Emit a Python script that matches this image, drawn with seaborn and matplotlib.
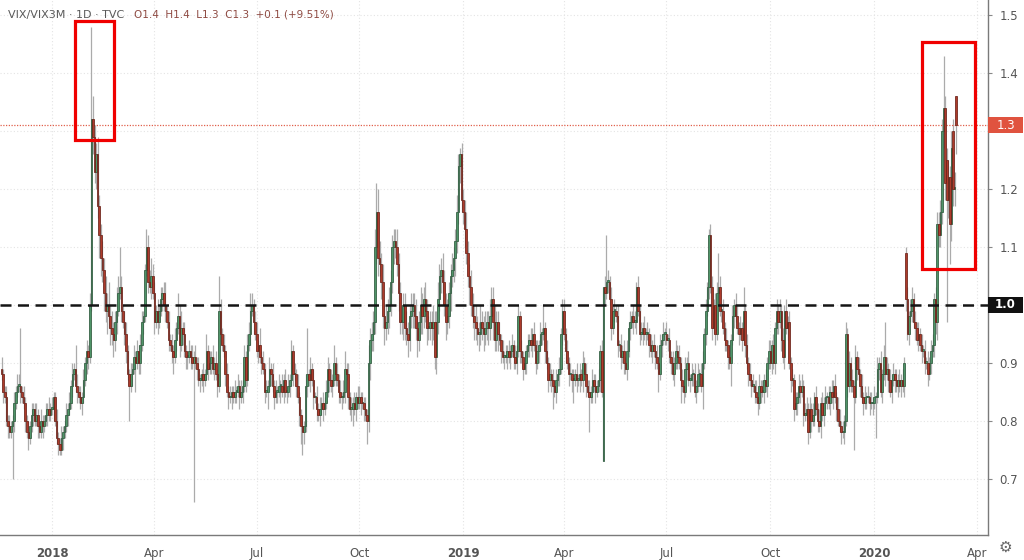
import numpy as np
import pandas as pd
import matplotlib
matplotlib.use("Agg")
import matplotlib.pyplot as plt
from matplotlib.patches import Rectangle
import seaborn as sns

# VIX/VIX3M daily closes, one row per month
close_2017 = [
    0.88, 0.85, 0.84, 0.80, 0.79, 0.78, 0.79, 0.80, 0.83, 0.85, 0.86,                                # Nov (from 16th)
    0.86, 0.85, 0.84, 0.83, 0.80, 0.78, 0.77, 0.79, 0.81, 0.82, 0.80, 0.81, 0.79, 0.78, 0.80, 0.79, 0.80, 0.81, 0.82, 0.81, 0.82,  # Dec
]
close_2018 = [
    0.82, 0.84, 0.80, 0.77, 0.76, 0.75, 0.77, 0.78, 0.79, 0.81, 0.82, 0.83, 0.86, 0.88, 0.89, 0.86, 0.85, 0.84, 0.83, 0.84, 0.87, 0.90, 0.92,
    0.91, 1.00, 1.32, 1.29, 1.23, 1.26, 1.17, 1.12, 1.08, 1.06, 1.02, 0.99, 1.00, 0.98, 0.96, 0.95, 0.94, 0.97, 0.99, 1.02,
    1.03, 0.99, 0.97, 0.95, 0.92, 0.88, 0.86, 0.88, 0.89, 0.91, 0.90, 0.92, 0.90, 0.93, 0.97, 0.98, 1.06, 1.10, 1.04, 1.03, 1.05, 1.02,
    0.97, 0.99, 0.97, 0.99, 1.01, 1.02, 1.00, 0.99, 0.97, 0.94, 0.93, 0.92, 0.91, 0.94, 0.96, 0.98, 0.93, 0.96, 0.95, 0.92, 0.91,
    0.91, 0.92, 0.91, 0.90, 0.91, 0.90, 0.89, 0.87, 0.87, 0.88, 0.87, 0.88, 0.92, 0.89, 0.90, 0.91, 0.89, 0.90, 0.88, 0.86, 0.99, 0.95, 0.93,
    0.92, 0.88, 0.85, 0.84, 0.84, 0.85, 0.84, 0.85, 0.85, 0.86, 0.84, 0.85, 0.86, 0.91, 0.87, 0.93, 0.95, 0.99, 1.00, 0.97, 0.95,
    0.92, 0.93, 0.91, 0.90, 0.89, 0.85, 0.85, 0.86, 0.89, 0.88, 0.86, 0.84, 0.85, 0.85, 0.86, 0.86, 0.85, 0.87, 0.85, 0.85, 0.86, 0.87,
    0.92, 0.88, 0.88, 0.86, 0.84, 0.81, 0.79, 0.78, 0.79, 0.86, 0.88, 0.87, 0.89, 0.87, 0.84, 0.84, 0.82, 0.81, 0.82, 0.83, 0.82, 0.83, 0.85,
    0.89, 0.87, 0.86, 0.87, 0.90, 0.88, 0.87, 0.85, 0.84, 0.84, 0.85, 0.89, 0.88, 0.84, 0.82, 0.82, 0.83, 0.82, 0.84, 0.83,
    0.84, 0.83, 0.83, 0.82, 0.81, 0.80, 0.90, 0.94, 0.95, 0.97, 1.10, 1.16, 1.08, 1.07, 1.04, 0.98, 0.96, 0.97, 0.99, 1.00, 1.04, 1.10, 1.11,
    1.10, 1.07, 1.02, 0.97, 0.97, 1.00, 0.96, 0.95, 0.94, 0.98, 0.99, 1.00, 0.98, 0.96, 0.94, 0.97, 1.00, 0.98, 1.01, 0.99, 0.96, 0.96,
    0.97, 0.96, 0.97, 0.91, 0.97, 1.01, 1.05, 1.06, 1.04, 1.00, 0.97, 0.98, 1.02, 1.05, 1.06, 1.08, 1.11, 1.16, 1.24, 1.26, 1.18,
]
close_2019 = [
    1.16, 1.13, 1.09, 1.05, 1.03, 1.00, 0.98, 0.97, 0.96, 0.95, 0.95, 0.97, 0.96, 0.95, 0.96, 0.97, 0.96, 0.98, 1.01, 0.97, 0.94, 0.97, 0.95,
    0.94, 0.92, 0.91, 0.91, 0.91, 0.92, 0.91, 0.92, 0.93, 0.91, 0.90, 0.92, 0.98, 0.92, 0.91, 0.89, 0.90, 0.92, 0.93, 0.94,
    0.93, 0.95, 0.93, 0.90, 0.92, 0.93, 0.95, 0.95, 0.96, 0.92, 0.90, 0.87, 0.88, 0.87, 0.86, 0.85, 0.87, 0.88, 0.89, 0.95, 0.99,
    0.95, 0.92, 0.90, 0.88, 0.88, 0.87, 0.87, 0.88, 0.87, 0.87, 0.88, 0.87, 0.90, 0.88, 0.86, 0.85, 0.84, 0.85, 0.87, 0.86, 0.85, 0.86,
    0.87, 0.92, 0.85, 1.03, 1.02, 1.04, 1.04, 1.01, 0.96, 0.99, 0.99, 0.98, 0.93, 0.93, 0.91, 0.92, 0.90, 0.89, 0.92, 0.96, 0.97, 0.98, 0.97,
    0.97, 1.03, 0.99, 0.95, 0.95, 0.96, 0.95, 0.95, 0.95, 0.93, 0.92, 0.93, 0.92, 0.91, 0.90, 0.88, 0.93, 0.94, 0.95, 0.95,
    0.94, 0.94, 0.91, 0.90, 0.88, 0.90, 0.92, 0.91, 0.90, 0.87, 0.86, 0.85, 0.89, 0.90, 0.87, 0.87, 0.88, 0.88, 0.85, 0.86, 0.88, 0.88, 0.86,
    0.90, 0.95, 0.99, 1.03, 1.12, 1.03, 0.96, 1.00, 0.95, 1.02, 1.03, 0.99, 0.99, 0.96, 0.94, 0.93, 0.91, 0.90, 0.94, 0.98, 1.00, 0.98,
    0.96, 0.95, 0.96, 0.94, 0.99, 0.93, 0.90, 0.88, 0.87, 0.86, 0.86, 0.85, 0.84, 0.83, 0.86, 0.85, 0.85, 0.87, 0.86, 0.90, 0.92,
    0.90, 0.93, 0.90, 0.96, 0.99, 0.97, 0.99, 0.94, 0.91, 0.99, 0.96, 0.97, 0.90, 0.87, 0.87, 0.82, 0.83, 0.84, 0.86, 0.85, 0.86, 0.81, 0.81,
    0.82, 0.78, 0.82, 0.80, 0.81, 0.84, 0.82, 0.80, 0.79, 0.83, 0.81, 0.83, 0.84, 0.84, 0.83, 0.85, 0.84, 0.86, 0.84, 0.82, 0.80,
    0.79, 0.78, 0.78, 0.80, 0.95, 0.86, 0.90, 0.87, 0.86, 0.84, 0.91, 0.89, 0.88, 0.86, 0.84, 0.83, 0.84, 0.84, 0.84, 0.83, 0.83, 0.83,
]
close_2020 = [
    0.84, 0.84, 0.89, 0.90, 0.85, 0.88, 0.91, 0.88, 0.89, 0.87, 0.85, 0.87, 0.88, 0.87, 0.86, 0.87, 0.86, 0.87, 0.86, 0.90, 1.01, 0.95, 0.98,
    0.99, 1.01, 0.97, 0.96, 0.94, 0.95, 0.93, 0.92, 0.92, 0.90, 0.90, 0.88, 0.90, 0.92, 0.93, 1.01, 0.97, 1.14, 1.12, 1.16,
    1.30, 1.34, 1.21, 1.18, 1.22, 1.14, 1.27, 1.20, 1.20, 1.31,
]

# wick length above / below the body, in hundredths
wick_up_2017 = [2, 1, 1, 2, 1, 2, 1, 1, 2, 1, 2,
                2, 10, 1, 2, 1, 1, 2, 1, 2, 1, 1, 2, 1, 1, 2, 1, 1, 2, 1, 2, 1]
wick_dn_2017 = [1, 2, 1, 1, 2, 1, 1, 9, 2, 1, 1,
                1, 2, 1, 1, 2, 1, 2, 1, 1, 2, 1, 1, 2, 1, 1, 2, 1, 1, 2, 1, 1]
wick_up_2018 = [
    2, 1, 1, 2, 1, 1, 2, 1, 1, 2, 1, 2, 1, 2, 1, 4, 2, 1, 2, 1, 2, 1, 2,
    1, 2, 16, 4, 2, 2, 3, 2, 2, 3, 2, 3, 2, 4, 2, 3, 2, 2, 4, 3,
    7, 2, 1, 2, 2, 1, 1, 2, 1, 2, 1, 2, 1, 2, 2, 1, 1, 3, 2, 2, 3, 2,
    2, 1, 2, 1, 2, 1, 2, 4, 1, 2, 1, 2, 1, 2, 1, 4, 2, 3, 1, 2, 1,
    1, 2, 1, 2, 1, 2, 1, 2, 1, 1, 2, 1, 3, 1, 2, 1, 2, 1, 2, 1, 6, 2, 1,
    2, 1, 2, 1, 2, 1, 1, 2, 1, 2, 1, 2, 1, 2, 1, 2, 2, 3, 2, 1, 2,
    2, 1, 3, 1, 2, 1, 2, 1, 2, 1, 2, 1, 2, 1, 2, 1, 2, 1, 2, 1, 2, 1,
    2, 1, 2, 1, 2, 1, 1, 2, 1, 2, 8, 1, 2, 1, 2, 1, 2, 1, 2, 1, 2, 1, 2,
    2, 1, 2, 1, 3, 1, 2, 1, 2, 1, 2, 3, 1, 2, 1, 2, 1, 2, 1, 2,
    2, 1, 2, 1, 2, 1, 3, 2, 2, 2, 3, 5, 4, 3, 2, 3, 2, 3, 2, 3, 2, 2, 2,
    2, 3, 2, 2, 3, 2, 2, 3, 2, 2, 3, 2, 2, 3, 2, 2, 3, 2, 2, 3, 2, 2,
    2, 2, 3, 2, 2, 3, 2, 2, 3, 2, 2, 3, 2, 2, 3, 2, 2, 3, 2, 1, 2,
]
wick_dn_2018 = [
    1, 2, 1, 1, 2, 1, 1, 2, 1, 1, 2, 1, 1, 2, 1, 1, 2, 1, 1, 2, 1, 1, 2,
    2, 1, 1, 3, 2, 3, 2, 4, 3, 2, 3, 2, 4, 2, 3, 2, 3, 2, 2, 1,
    1, 2, 1, 2, 2, 1, 6, 1, 2, 1, 5, 1, 2, 2, 1, 2, 1, 1, 2, 1, 2, 1,
    2, 1, 2, 1, 1, 2, 1, 2, 1, 2, 1, 2, 3, 1, 2, 1, 2, 1, 2, 1, 2,
    2, 1, 2, 1, 24, 1, 2, 1, 2, 1, 2, 1, 1, 2, 1, 2, 1, 2, 1, 2, 1, 2, 1,
    1, 2, 1, 2, 1, 2, 1, 1, 2, 1, 2, 1, 2, 1, 2, 1, 1, 2, 1, 2, 1,
    1, 2, 1, 2, 1, 2, 1, 3, 1, 2, 1, 2, 1, 2, 1, 3, 1, 2, 1, 2, 1, 2,
    1, 2, 1, 2, 1, 2, 3, 4, 2, 1, 2, 1, 2, 1, 2, 1, 2, 1, 2, 1, 2, 1, 1,
    1, 2, 1, 2, 1, 2, 1, 2, 1, 2, 1, 2, 1, 2, 1, 2, 3, 1, 2, 1,
    1, 2, 1, 2, 1, 4, 2, 3, 2, 3, 2, 3, 3, 2, 3, 2, 3, 2, 2, 3, 2, 2, 3,
    2, 2, 3, 2, 2, 3, 2, 2, 3, 2, 2, 3, 2, 2, 3, 2, 2, 3, 2, 2, 3, 2,
    2, 3, 2, 2, 3, 2, 2, 3, 2, 2, 3, 2, 2, 3, 2, 2, 3, 2, 2, 3, 2,
]
wick_up_2019 = [
    2, 2, 3, 2, 2, 3, 2, 2, 3, 2, 2, 3, 2, 2, 3, 2, 2, 3, 2, 2, 3, 2, 2,
    2, 1, 2, 1, 2, 1, 2, 1, 2, 1, 2, 1, 2, 1, 2, 1, 2, 1, 2, 1,
    2, 1, 2, 1, 2, 1, 2, 1, 4, 1, 2, 1, 2, 1, 2, 1, 2, 1, 2, 1, 2,
    2, 1, 2, 1, 2, 1, 2, 1, 2, 1, 2, 1, 2, 1, 2, 1, 2, 1, 2, 1, 2, 1,
    2, 1, 2, 0, 2, 8, 2, 1, 2, 1, 2, 1, 2, 1, 2, 1, 2, 1, 2, 1, 2, 1, 2,
    2, 1, 2, 1, 2, 1, 2, 1, 2, 1, 2, 1, 2, 1, 2, 1, 2, 1, 2, 1,
    2, 1, 2, 1, 2, 1, 2, 1, 2, 1, 2, 1, 2, 1, 2, 1, 2, 1, 2, 1, 2, 1, 2,
    2, 1, 2, 1, 1, 2, 2, 1, 2, 2, 6, 2, 1, 2, 1, 2, 1, 2, 1, 2, 1, 2,
    2, 1, 2, 1, 4, 1, 2, 1, 2, 1, 2, 1, 2, 1, 2, 1, 2, 1, 2, 1, 2,
    2, 1, 2, 1, 2, 1, 2, 1, 2, 1, 2, 1, 2, 1, 2, 1, 2, 1, 2, 1, 2, 1, 2,
    2, 1, 2, 1, 2, 1, 2, 1, 2, 1, 2, 1, 2, 1, 2, 1, 2, 1, 2, 1, 2,
    2, 1, 2, 1, 2, 1, 2, 1, 2, 1, 2, 1, 2, 1, 2, 1, 2, 1, 2, 1, 2, 1,
]
wick_dn_2019 = [
    2, 3, 2, 2, 3, 2, 2, 3, 2, 2, 3, 2, 2, 3, 2, 2, 3, 2, 2, 3, 2, 2, 3,
    1, 2, 1, 2, 1, 2, 1, 2, 1, 2, 1, 2, 1, 2, 1, 2, 1, 2, 1, 2,
    1, 2, 1, 2, 1, 2, 1, 2, 1, 2, 1, 2, 1, 2, 4, 1, 2, 1, 2, 1, 2,
    1, 2, 1, 2, 1, 2, 4, 1, 2, 1, 2, 1, 2, 1, 2, 1, 6, 1, 2, 1, 2, 1,
    1, 2, 1, 0, 2, 1, 2, 1, 2, 1, 2, 1, 2, 1, 2, 1, 2, 1, 2, 1, 2, 1, 2,
    1, 2, 1, 2, 1, 2, 1, 2, 1, 2, 1, 2, 1, 2, 1, 3, 1, 2, 1, 2,
    1, 2, 1, 2, 1, 2, 1, 2, 1, 4, 1, 2, 1, 2, 1, 2, 1, 2, 1, 2, 1, 2, 1,
    4, 1, 2, 1, 2, 1, 2, 1, 2, 1, 2, 1, 2, 1, 2, 1, 2, 1, 4, 1, 2, 1,
    1, 2, 1, 2, 1, 2, 1, 2, 1, 2, 1, 2, 1, 2, 1, 2, 1, 2, 1, 2, 1,
    1, 2, 1, 2, 1, 2, 1, 2, 1, 2, 1, 2, 1, 2, 1, 2, 1, 2, 1, 2, 1, 2, 1,
    1, 2, 1, 2, 1, 2, 1, 2, 1, 2, 1, 2, 1, 2, 1, 2, 1, 2, 1, 2, 1,
    1, 2, 1, 2, 1, 2, 1, 2, 1, 9, 1, 2, 1, 2, 1, 2, 1, 2, 1, 2, 1, 2,
]
wick_up_2020 = [
    2, 1, 2, 1, 2, 1, 2, 6, 2, 1, 2, 1, 2, 1, 2, 1, 2, 1, 2, 1, 1, 2, 1,
    2, 2, 1, 2, 1, 2, 1, 2, 1, 2, 1, 2, 1, 2, 2, 1, 2, 2, 2, 2,
    2, 9, 2, 2, 3, 2, 3, 2, 3, 0,
]
wick_dn_2020 = [
    1, 7, 1, 2, 1, 2, 1, 2, 1, 2, 1, 2, 1, 2, 1, 2, 1, 2, 1, 2, 2, 1, 2,
    1, 2, 1, 2, 1, 2, 1, 2, 1, 2, 1, 2, 1, 2, 1, 2, 2, 3, 2, 2,
    2, 3, 3, 21, 3, 7, 3, 3, 3, 5,
]

# sessions whose open is not the previous close
gap_open = {
    "2017-11-16": 0.89,
    "2019-05-06": 0.73,
    "2020-01-29": 1.09,
    "2020-03-05": 1.25,
    "2020-03-11": 1.30,
    "2020-03-13": 1.36,
}

closes = np.array(close_2017 + close_2018 + close_2019 + close_2020)
up_w = np.array(wick_up_2017 + wick_up_2018 + wick_up_2019 + wick_up_2020) / 100
dn_w = np.array(wick_dn_2017 + wick_dn_2018 + wick_dn_2019 + wick_dn_2020) / 100
n = len(closes)
dates = pd.bdate_range("2017-11-16", periods=n)

opens = np.r_[closes[0], closes[:-1]]
for d, v in gap_open.items():
    opens[dates.get_loc(pd.Timestamp(d))] = v
highs = np.maximum(opens, closes) + up_w
lows = np.minimum(opens, closes) - dn_w

df = pd.DataFrame({"date": dates, "open": opens, "high": highs,
                   "low": lows, "close": closes})
df["pos"] = np.arange(n)
df["rising"] = df["close"] >= df["open"]

sns.set_style("white")
plt.rcParams["font.family"] = ["DejaVu Sans"]

fig = plt.figure(figsize=(10.24, 5.6), dpi=100)
ax = fig.add_axes([0.0, 0.045, 0.965, 0.955])

ax.set_ylim(0.603, 1.526)
ax.set_xlim(-1, 626.3)

# wicks
ax.vlines(df["pos"], df["low"], df["high"], color="#ababab", lw=0.9, zorder=2)

# bodies
body = (df["close"] - df["open"]).abs().clip(lower=0.003)
bottom = df[["open", "close"]].min(axis=1)
g = df["rising"]
ax.bar(df["pos"][g], body[g], bottom=bottom[g], width=1.0,
       color="#4f9468", edgecolor="#2f5a3e", lw=0.55, zorder=3)
ax.bar(df["pos"][~g], body[~g], bottom=bottom[~g], width=1.0,
       color="#ad3b2b", edgecolor="#6a2219", lw=0.55, zorder=3)

# reference lines
ax.axhline(1.0, color="#151515", lw=1.8, ls=(0, (4.4, 2.6)), zorder=4)
last = closes[-1]
ax.axhline(last, color="#e0604c", lw=0.9, ls=(0, (1, 1.2)), zorder=2.5)

# highlight boxes
ax.add_patch(Rectangle((46.6, 1.285), 24.5, 0.204, fill=False, ec="#f00000",
                       lw=2.3, zorder=6))
ax.add_patch(Rectangle((584.6, 1.061), 33.4, 0.393, fill=False, ec="#f00000",
                       lw=2.3, zorder=6))

# x ticks at quarter starts, future sessions included for the axis
ext = pd.bdate_range("2017-11-16", "2020-06-30")
quarters = pd.date_range("2018-01-01", "2020-04-01", freq="QS")
xt = [ext.searchsorted(q) for q in quarters]
xl = [str(q.year) if q.month == 1 else q.strftime("%b") for q in quarters]
ax.set_xticks(xt)
ax.set_xticklabels(xl)
for lab, q in zip(ax.get_xticklabels(), quarters):
    if q.month == 1:
        lab.set_fontweight("bold")

# 1.0 and 1.3 are shown by the tags on the scale
yt = [0.7, 0.8, 0.9, 1.0, 1.1, 1.2, 1.3, 1.4, 1.5]
ax.yaxis.tick_right()
ax.set_yticks(yt)
ax.set_yticklabels(["" if v in (1.0, 1.3) else f"{v:.1f}" for v in yt])

ax.tick_params(axis="x", colors="#555555", labelsize=8.5, length=3, pad=6,
               color="#888888")
ax.tick_params(axis="y", colors="#555555", labelsize=8.5, length=3, pad=5,
               color="#888888")

ax.grid(True, color="#e4e4e4", ls=(0, (1, 2)), lw=0.8)
ax.set_axisbelow(True)
for s in ["top", "left"]:
    ax.spines[s].set_visible(False)
for s in ["right", "bottom"]:
    ax.spines[s].set_color("#7a7a7a")
    ax.spines[s].set_linewidth(1.0)

# price tags on the right scale
fig_h = fig.bbox.height
def scale_tag(val, txt, fc, bold=False):
    yfig = ax.transData.transform((0, val))[1] / fig_h
    fig.patches.append(Rectangle((0.965, yfig - 0.0145), 0.034, 0.029,
                                 transform=fig.transFigure, fc=fc, ec="none",
                                 zorder=10))
    fig.text(0.982, yfig, txt, color="white", ha="center", va="center",
             fontsize=8.5, fontweight="bold" if bold else "normal", zorder=11)

scale_tag(last, "1.3", "#e0533f")
scale_tag(1.0, "1.0", "#111111", bold=True)

# header
fig.text(0.008, 0.974, "VIX/VIX3M · 1D · TVC", color="#5a5a5a", fontsize=8,
         va="center")
fig.text(0.131, 0.974, "O1.4  H1.4  L1.3  C1.3  +0.1 (+9.51%)", color="#8e4a42",
         fontsize=7.5, va="center")

fig.text(0.982, 0.022, "\u2699", color="#666666", fontsize=11, ha="center",
         va="center")

fig.savefig("out.png", dpi=100)
